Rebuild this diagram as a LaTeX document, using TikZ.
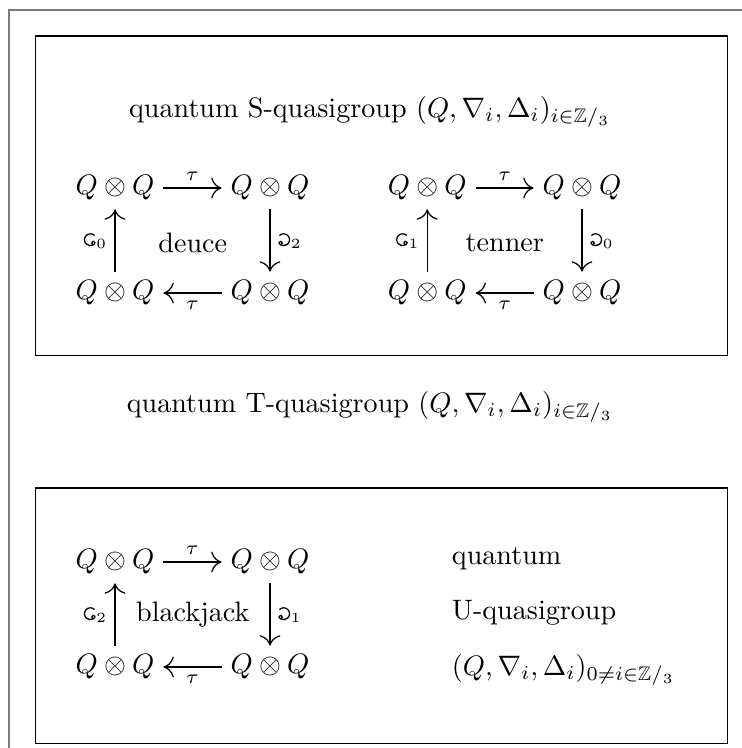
\documentclass[tikz,border=0pt]{standalone}
\usepackage{amssymb}
\usepackage{graphicx}
\usetikzlibrary{positioning, arrows.meta}
\definecolor{frameGray}{HTML}{7A7A7A}
\newcommand{\qq}{$Q\otimes Q$}
% c with a curl at its foot, and its mirror image
\newcommand{\lcurl}{\tikz[baseline=0pt, x=1.4ex, y=1.4ex, line width=0.45pt]
  \draw[-] (0.85,0.85) arc [start angle=45, end angle=300, radius=0.5]
        .. controls (0.95,0.18) and (0.9,0.4) .. (0.72,0.36)
        .. controls (0.56,0.32) and (0.6,0.12) .. (0.7,0.08);}
\newcommand{\rcurl}{\reflectbox{\lcurl}}

\begin{document}
\begin{tikzpicture}[
  >={To[length=1.3mm, width=2.6mm]},
  obj/.style={inner sep=3pt},
  mor/.style={->, line width=0.45pt},
  lbl/.style={font=\scriptsize, inner sep=2.5pt},
  box/.style={draw, line width=0.45pt},
]
\useasboundingbox (0,0) rectangle (9.275,9.35);

% ===== outer frame (runs off the page) =====================================
\draw[frameGray, line width=0.5pt] (0.11,-1) -- (0.11,9.225) -- (10,9.225);

% ===== S-quasigroup box ======================================================
\draw[box] (0.44,4.91) rectangle (9.09,8.9);
\node (stitle) at (4.625,7.95)
  {quantum S-quasigroup $(Q,\nabla_i,\Delta_i)_{i\in\mathbb{Z}/_3}$};

% deuce square
\node[obj] (d00) at (1.4375,7.0) {\qq};
\node[obj] (d01) at (3.375,7.0) {\qq};
\node[obj] (d10) at (1.4375,5.6875) {\qq};
\node[obj] (d11) at (3.375,5.6875) {\qq};
\node (deuce) at (2.41,6.31) {deuce};
\draw[mor] (d00) -- node[lbl, above] {$\tau$} (d01);
\draw[mor] (d01) -- node[lbl, right] {$\rcurl_2$} (d11);
\draw[mor] (d11) -- node[lbl, below] {$\tau$} (d10);
\draw[mor] (d10) -- node[lbl, left] {$\lcurl_0$} (d00);

% tenner square
\node[obj] (t00) at (5.34,7.0) {\qq};
\node[obj] (t01) at (7.275,7.0) {\qq};
\node[obj] (t10) at (5.34,5.6875) {\qq};
\node[obj] (t11) at (7.275,5.6875) {\qq};
\node (tenner) at (6.31,6.31) {tenner};
\draw[mor] (t00) -- node[lbl, above] {$\tau$} (t01);
\draw[mor] (t01) -- node[lbl, right] {$\rcurl_0$} (t11);
\draw[mor] (t11) -- node[lbl, below] {$\tau$} (t10);
\draw[mor] (t10) -- node[lbl, left] {$\lcurl_1$} (t00);

% ===== T-quasigroup title ====================================================
\node (ttitle) at (4.625,4.26)
  {quantum T-quasigroup $(Q,\nabla_i,\Delta_i)_{i\in\mathbb{Z}/_3}$};

% ===== U-quasigroup box ======================================================
\draw[box] (0.44,0.06) rectangle (9.09,3.25);

% blackjack square
\node[obj] (b00) at (1.4375,2.325) {\qq};
\node[obj] (b01) at (3.375,2.325) {\qq};
\node[obj] (b10) at (1.4375,1.0125) {\qq};
\node[obj] (b11) at (3.375,1.0125) {\qq};
\node (blackjack) at (2.41,1.67) {blackjack};
\draw[mor] (b00) -- node[lbl, above] {$\tau$} (b01);
\draw[mor] (b01) -- node[lbl, right] {$\rcurl_1$} (b11);
\draw[mor] (b11) -- node[lbl, below] {$\tau$} (b10);
\draw[mor] (b10) -- node[lbl, left] {$\lcurl_2$} (b00);

% U-quasigroup text
\node[anchor=base west] (uq1) at (5.525,2.29) {quantum};
\node[anchor=base west] (uq2) at (5.525,1.6) {U-quasigroup};
\node[anchor=base west] (uq3) at (5.525,0.91)
  {$(Q,\nabla_i,\Delta_i)_{0\neq i\in\mathbb{Z}/_3}$};

\end{tikzpicture}
\end{document}
